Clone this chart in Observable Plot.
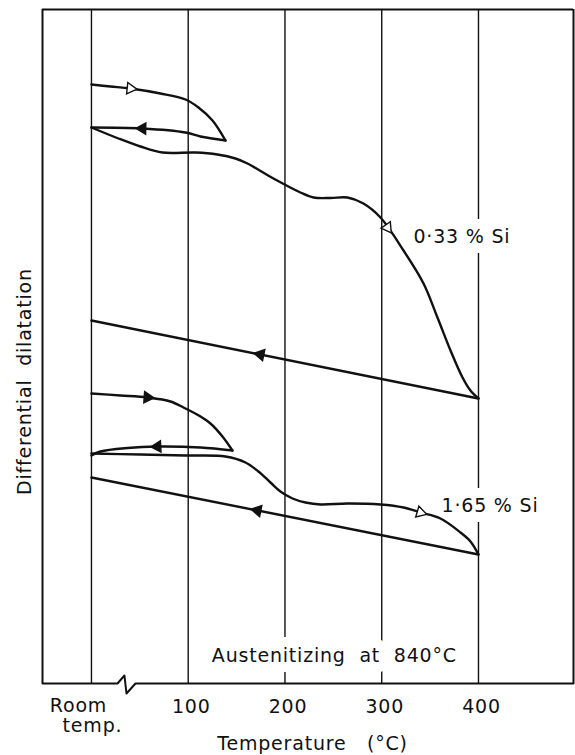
<!DOCTYPE html>
<html>
<head>
<meta charset="utf-8">
<script src="https://cdn.jsdelivr.net/npm/d3@7"></script>
<script src="https://cdn.jsdelivr.net/npm/@observablehq/plot@0.6"></script>
<style>
  html, body { margin: 0; padding: 0; background: #fff; }
  svg { display: block; }
</style>
</head>
<body>
<div id="chart"></div>
<script>
// ---- Data (temperature in °C, room temp placed at 0; dilatation in arbitrary units) ----
const gridTemps = [0, 100, 200, 300, 400];
const xTicks = [100, 200, 300, 400];
const roomLabel = ["Room", "temp."];
const xTitle = "Temperature   (°C)";
const yTitle = "Differential  dilatation";
const noteText = "Austenitizing  at  840°C";

const si033Heat1 = [[0,59.9],[19.6,59.7],[40.3,59.5],[71.3,59.0],[97.2,58.4],[110.6,57.6],[125.1,56.3],[138.5,54.3]];
const si033Cool1 = [[138.5,54.3],[112.7,54.7],[97.2,55.1],[52.7,55.5],[0,55.6]];
const si033Heat2 = [[0,55.6],[27.9,54.5],[50.6,53.7],[73.4,53.1],[107.5,53.1],[130.2,52.9],[148.8,52.5],[161.2,52.0],[188.1,50.5],[216.0,49.1],[229.5,48.6],[247.0,48.55],[264.6,48.6],[281.1,48.0],[298.7,46.6],[322.5,43.3],[343.2,40.0],[357.6,36.6],[371.1,33.3],[383.5,30.6],[391.7,29.3],[400,28.5]];
const si033Cool2 = [[400,28.5],[0,36.3]];

const si165Heat1 = [[0,29.0],[30.0,28.8],[57.9,28.6],[81.7,28.2],[97.2,27.5],[112.7,26.7],[123,26.0],[135.4,24.7],[145.7,23.3]];
const si165Cool1 = [[145.7,23.3],[112.7,23.6],[68.2,23.7],[37.2,23.55],[9.3,23.2],[0,22.8]];
const si165Heat2 = [[0,23.0],[50.6,22.9],[97.2,22.8],[138.5,22.7],[159.2,22.1],[172.6,21.2],[185.0,20.1],[195.3,19.2],[207.8,18.5],[221.2,18.1],[236.7,17.9],[264.6,18.0],[298.7,17.9],[322.5,17.6],[340,17.1],[360.7,16.5],[381.4,15.1],[391.7,14.2],[400,12.9]];
const si165Cool2 = [[400,12.9],[0,20.6]];

// arrowheads: which branch, temperature where drawn, open or filled
const arrowMarks = [
  {branch: "033h1", T: 40.3, open: true},
  {branch: "033c1", T: 52.7, open: false},
  {branch: "033h2", T: 306, open: true},
  {branch: "033c2", T: 174.7, open: false},
  {branch: "165h1", T: 57.9, open: false},
  {branch: "165c1", T: 68.2, open: false},
  {branch: "165h2", T: 340, open: true},
  {branch: "165c2", T: 171.6, open: false}
];

const seriesLabels = [
  {text: "0·33 % Si", T: 332.8, d: 44.7},
  {text: "1·65 % Si", T: 361.8, d: 17.8}
];

// broken-axis symbol on the temperature axis
const axisBreak = [[-50.6,0],[26.9,0],[34.1,0.8],[36.2,-1.0],[45.5,0],[498.2,0]];

// ---- Build tables ----
const branches = [
  {id: "033h1", dir: 1, pts: si033Heat1},
  {id: "033c1", dir: -1, pts: si033Cool1},
  {id: "033h2", dir: 1, pts: si033Heat2},
  {id: "033c2", dir: -1, pts: si033Cool2},
  {id: "165h1", dir: 1, pts: si165Heat1},
  {id: "165c1", dir: -1, pts: si165Cool1},
  {id: "165h2", dir: 1, pts: si165Heat2},
  {id: "165c2", dir: -1, pts: si165Cool2}
];
const rows = branches.flatMap(b => b.pts.map(([T, d]) => ({branch: b.id, T, d})));

const W = 575, H = 755;
const mL = 42, mR = 2, mT = 9, mB = 72;
const xDomain = [-50.6, 498.2], yDomain = [0, 67.4];
const kx = (W - mL - mR) / (xDomain[1] - xDomain[0]);
const ky = (H - mT - mB) / (yDomain[1] - yDomain[0]);

function locate(pts, T) {
  const s = pts.slice().sort((a, b) => a[0] - b[0]);
  for (let i = 0; i < s.length - 1; i++) {
    const [x0, y0] = s[i], [x1, y1] = s[i + 1];
    if (T >= x0 && T <= x1) {
      const t = (T - x0) / (x1 - x0);
      return {d: y0 + t * (y1 - y0), slope: (y1 - y0) / (x1 - x0)};
    }
  }
  return {d: s[0][1], slope: 0};
}
const arrowRows = arrowMarks.map(a => {
  const b = branches.find(b => b.id === a.branch);
  const {d, slope} = locate(b.pts, a.T);
  const ang = Math.atan2(b.dir * kx, b.dir * slope * ky) * 180 / Math.PI;
  return {...a, d, angle: ang};
});

const font = "DejaVu Sans";
const fs = 19;

const plot = Plot.plot({
  width: W, height: H,
  marginLeft: mL, marginRight: mR, marginTop: mT, marginBottom: mB,
  x: {domain: xDomain, axis: null},
  y: {domain: yDomain, axis: null},
  style: {fontFamily: font, background: "#fff"},
  marks: [
    Plot.ruleX(gridTemps, {stroke: "#111", strokeWidth: 1.4}),
    // labels with white halo (interrupting grid lines)
    Plot.text([noteText], {frameAnchor: "bottom", x: () => 251, text: d => d, lineAnchor: "middle", dy: -28, fontSize: fs, fill: "#111", stroke: "white", strokeWidth: 20, strokeLinejoin: "round"}),
    Plot.text(seriesLabels, {x: "T", y: "d", text: "text", textAnchor: "start", fontSize: fs, fill: "#111", stroke: "white", strokeWidth: 20, strokeLinejoin: "round"}),
    // frame
    Plot.ruleX([xDomain[0]], {stroke: "#111", strokeWidth: 2}),
    Plot.ruleX([xDomain[1]], {stroke: "#111", strokeWidth: 2}),
    Plot.ruleY([yDomain[1]], {stroke: "#111", strokeWidth: 2}),
    Plot.line(axisBreak, {x: d => d[0], y: d => d[1], stroke: "#111", strokeWidth: 2}),
    // curves
    Plot.line(rows, {x: "T", y: "d", z: "branch", curve: "catmull-rom", stroke: "#111", strokeWidth: 2.4}),
    Plot.dot(arrowRows, {x: "T", y: "d", symbol: "triangle", r: 4.2, rotate: "angle", fill: d => d.open ? "white" : "#111", stroke: "#111", strokeWidth: 1.4}),
    // tick labels
    Plot.text(xTicks, {x: d => d, frameAnchor: "bottom", lineAnchor: "middle", dy: 23, dx: 3, text: d => String(d), fontSize: fs, fill: "#111"}),
    Plot.text([roomLabel[0]], {x: () => 0, frameAnchor: "bottom", lineAnchor: "middle", dy: 22, dx: -13, text: d => d, fontSize: fs, fill: "#111"}),
    Plot.text([roomLabel[1]], {x: () => 0, frameAnchor: "bottom", lineAnchor: "middle", dy: 42, dx: 1, text: d => d, fontSize: fs, fill: "#111"}),
    // axis titles
    Plot.text([xTitle], {frameAnchor: "bottom", lineAnchor: "middle", dy: 60, dx: 4.5, text: d => d, fontSize: fs, fill: "#111"}),
    Plot.text([yTitle], {frameAnchor: "left", textAnchor: "middle", lineAnchor: "middle", dx: -18, dy: 35, rotate: -90, text: d => d, fontSize: fs, fill: "#111"})
  ]
});
d3.select(plot).selectAll("text").attr("letter-spacing", 0.8);
document.getElementById("chart").appendChild(plot);
</script>
</body>
</html>
